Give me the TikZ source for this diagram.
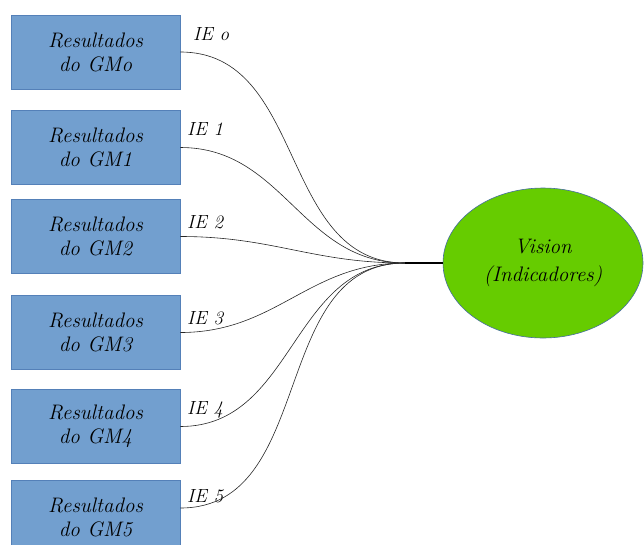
\documentclass[tikz,border=0pt]{standalone}
\usetikzlibrary{shapes.geometric,calc}
\definecolor{boxfill}{RGB}{114,159,207}
\definecolor{boxline}{RGB}{84,128,184}
\definecolor{ellfill}{RGB}{102,204,0}
\definecolor{ellline}{RGB}{70,110,160}
\begin{document}
\begin{tikzpicture}[x=1pt,y=-1pt,
  gmbox/.style={draw=boxline,fill=boxfill,line width=0.8pt,minimum width=169pt,minimum height=74pt,inner sep=0pt,align=center,font=\itshape\fontsize{21}{24}\selectfont},
  visell/.style={ellipse,draw=ellline,fill=ellfill,line width=0.6pt,minimum width=200pt,minimum height=150pt,inner sep=0pt,align=center,font=\itshape\fontsize{21}{28}\selectfont},
  ielabel/.style={anchor=base west,inner sep=0pt,font=\itshape\fontsize{19}{24}\selectfont},
  link/.style={draw=black!85,line width=0.6pt,out=0,in=180,looseness=1.05}]
\useasboundingbox (0,0) rectangle (644,544);
\node[gmbox] (b0) at (95.5,52) {Resultados\\do GMo};
\node[gmbox] (b1) at (95.5,147.5) {Resultados\\do GM1};
\node[gmbox] (b2) at (95.5,236.5) {Resultados\\do GM2};
\node[gmbox] (b3) at (95.5,332.5) {Resultados\\do GM3};
\node[gmbox] (b4) at (95.5,426.5) {Resultados\\do GM4};
\node[gmbox] (b5) at (95.5,517) {Resultados\\do GM5};
\node[visell] (v) at (543,263) {Vision\\(Indicadores)};
\coordinate (c) at (405,263);
\coordinate (s5) at ($(b5.east)+(0,-9)$);
\node[ielabel] (l0) at (193,40) {IE o};
\node[ielabel] (l1) at (187,135) {IE 1};
\node[ielabel] (l2) at (187,228) {IE 2};
\node[ielabel] (l3) at (187,324) {IE 3};
\node[ielabel] (l4) at (187,414) {IE 4};
\node[ielabel] (l5) at (187,502) {IE 5};
\draw[link] (b0.east) to (c);
\draw[link] (b1.east) to (c);
\draw[link] (b2.east) to (c);
\draw[link] (b3.east) to (c);
\draw[link] (b4.east) to (c);
\draw[link] (s5) to (c);
\draw[line width=1.4pt] (c) -- (v.west);
\end{tikzpicture}
\end{document}
